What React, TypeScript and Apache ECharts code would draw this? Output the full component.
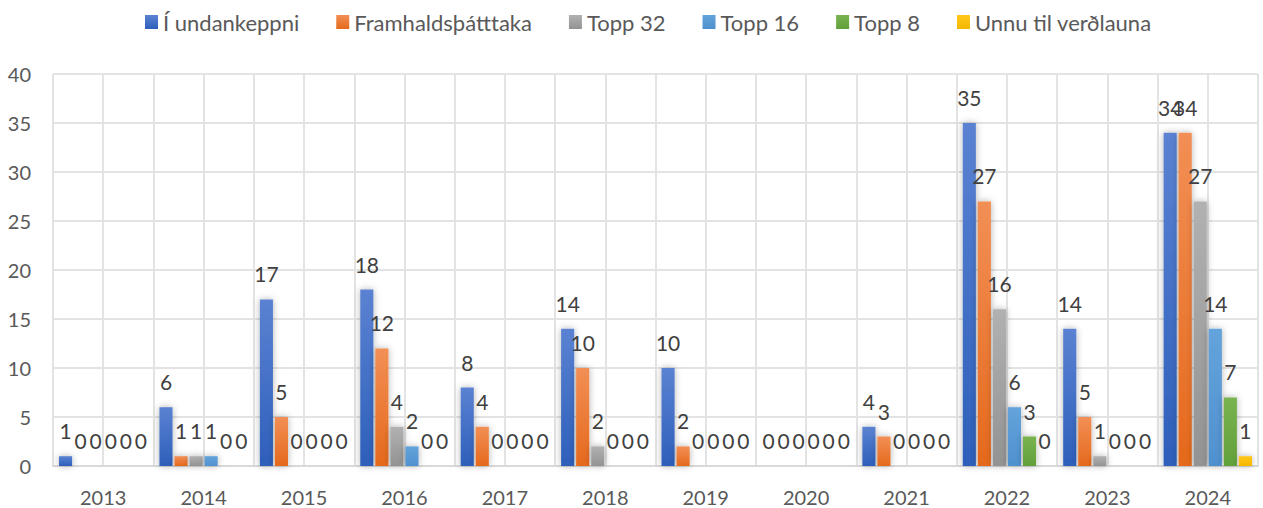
import React, { useEffect, useRef } from "react";
import * as echarts from "echarts";

const years = ["2013", "2014", "2015", "2016", "2017", "2018", "2019", "2020", "2021", "2022", "2023", "2024"];
const seriesNames = ["Í undankeppni", "Framhaldsþátttaka", "Topp 32", "Topp 16", "Topp 8", "Unnu til verðlauna"];
const undankeppni = [1, 6, 17, 18, 8, 14, 10, 0, 4, 35, 14, 34];
const framhald = [0, 1, 5, 12, 4, 10, 2, 0, 3, 27, 5, 34];
const topp32 = [0, 1, 0, 4, 0, 2, 0, 0, 0, 16, 1, 27];
const topp16 = [0, 1, 0, 2, 0, 0, 0, 0, 0, 6, 0, 14];
const topp8 = [0, 0, 0, 0, 0, 0, 0, 0, 0, 3, 0, 7];
const verdlaun = [0, 0, 0, 0, 0, 0, 0, 0, 0, 0, 0, 1];
const yTicks = { min: 0, max: 40, interval: 5 };

const colors = [
  ["#5b82d2", "#2d5fba", "#4472c4"],
  ["#f28f55", "#e5691c", "#ed7d31"],
  ["#b1b1b1", "#939393", "#a5a5a5"],
  ["#64a3db", "#4f91cf", "#5b9bd5"],
  ["#78b34f", "#62a13a", "#70ad47"],
  ["#ffc71a", "#f5b800", "#ffc000"],
];

const FONT = "Lato";

export default function App() {
  const ref = useRef<HTMLDivElement>(null);
  useEffect(() => {
    if (!ref.current) return;
    const chart = echarts.init(ref.current, undefined, { renderer: "svg" });
    const data = [undankeppni, framhald, topp32, topp16, topp8, verdlaun];
    chart.setOption({
      animation: false,
      textStyle: { fontFamily: FONT },
      legend: {
        top: 6,
        left: 140,
        itemWidth: 13,
        itemHeight: 14,
        itemGap: 37,
        icon: "rect",
        textStyle: { fontSize: 22, color: "#595959", fontFamily: FONT },
        data: seriesNames.map((n, i) => ({
          name: n,
          itemStyle: {
            color: new echarts.graphic.LinearGradient(0, 0, 0, 1, [
              { offset: 0, color: colors[i][0] },
              { offset: 1, color: colors[i][1] },
            ]),
          },
        })),
      },
      grid: { left: 53, right: 5, top: 74, bottom: 42, containLabel: false },
      xAxis: [
        {
          type: "category",
          data: years,
          axisLine: { show: true, lineStyle: { color: "#d9d9d9", width: 2 } },
          axisTick: { show: false },
          splitLine: { show: false },
          axisLabel: { fontSize: 20, color: "#595959", margin: 21, fontFamily: FONT },
        },
        {
          type: "value",
          min: 0,
          max: 24,
          interval: 1,
          show: true,
          position: "bottom",
          axisLine: { show: false },
          axisTick: { show: false },
          axisLabel: { show: false },
          splitLine: { show: true, lineStyle: { color: "#e3e3e3", width: 2 } },
        },
      ],
      yAxis: {
        type: "value",
        min: yTicks.min,
        max: yTicks.max,
        interval: yTicks.interval,
        axisLine: { show: false },
        axisTick: { show: false },
        axisLabel: { fontSize: 20, color: "#595959", margin: 22, fontFamily: FONT },
        splitLine: { lineStyle: { color: "#e3e3e3", width: 2 } },
      },
      series: seriesNames.map((name, i) => ({
        name,
        type: "bar",
        xAxisIndex: 0,
        data: data[i],
        barGap: "15%",
        barCategoryGap: "12%",
        itemStyle: {
          color: new echarts.graphic.LinearGradient(0, 0, 0, 1, [
            { offset: 0, color: colors[i][0] },
            { offset: 1, color: colors[i][1] },
          ]),
          shadowBlur: 7,
          shadowColor: "rgba(0,0,0,0.3)",
        },
        label: {
          show: true,
          position: "top",
          distance: 15,
          fontSize: 21,
          color: "#404040",
          fontFamily: FONT,
        },
      })),
    });
    return () => chart.dispose();
  }, []);
  return <div ref={ref} style={{ width: 1263, height: 508, position: "absolute", left: 0, top: 0 }} />;
}
